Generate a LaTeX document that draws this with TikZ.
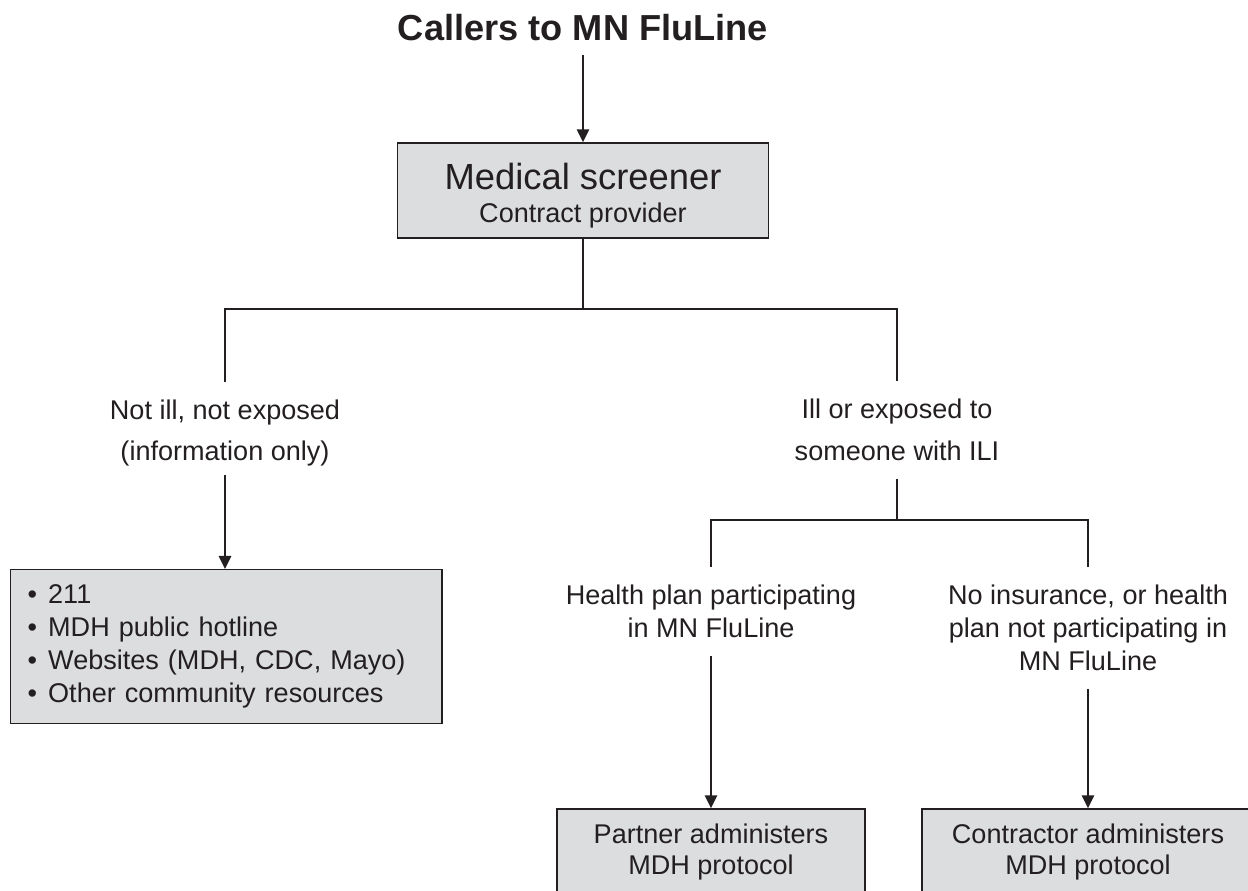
\documentclass[tikz,border=0pt]{standalone}
\usepackage{fontspec}
\setmainfont{Liberation Sans}
\usetikzlibrary{arrows.meta}
\definecolor{boxgray}{RGB}{220,221,223}
\definecolor{ink}{RGB}{35,31,32}
\begin{document}
\begin{tikzpicture}[x=0.02cm, y=-0.02cm, color=ink, line width=1.1pt, >={Triangle[length=7.4pt, width=7pt]},
    box/.style = {draw, fill=boxgray, line width=0.85pt, inner sep=0pt, align=center},
    lbl/.style = {align=center, inner xsep=0pt, inner ysep=0.34cm, font=\fontsize{15.4}{18.8}\selectfont},
    lbltall/.style = {lbl, font=\fontsize{15.4}{23.8}\selectfont}]
    \clip (0,0) rectangle (1248,891);
    \node[font=\bfseries\fontsize{20.6}{24}\selectfont, inner xsep=0pt, inner ysep=0.26cm] (1) at (583,28) {Callers to MN FluLine};
    \node[box, minimum width=7.42cm, minimum height=1.9cm, font=\fontsize{15.4}{18.7}\selectfont] (2) at (583,190.5) {\rule{0pt}{0.72cm}{\fontsize{20.7}{24}\selectfont Medical screener}\\Contract provider};
    \node[lbltall] (3) at (225,433) {Not ill, not exposed\\(information only)};
    \node[lbltall] (4) at (897,430) {Ill or exposed to\\someone with ILI};
    \node[lbl] (5) at (711,611.5) {Health plan participating\\in MN FluLine};
    \node[lbl] (6) at (1088,628) {No insurance, or health\\plan not participating in\\MN FluLine};
    \node[box, minimum width=6.16cm, minimum height=1.72cm, font=\fontsize{15.4}{17.6}\selectfont] (7) at (711,852) {Partner administers\\MDH protocol};
    \node[box, minimum width=6.64cm, minimum height=1.72cm, font=\fontsize{15.4}{17.6}\selectfont] (8) at (1088,852) {Contractor administers\\MDH protocol};
    \node[box, anchor=north west, align=left, text width=7.94cm, minimum height=3.08cm, inner xsep=0.35cm, font=\fontsize{15.4}{18.8}\selectfont] (9) at (9.5,569)
        {•\hspace{0.22cm}211\\•\hspace{0.22cm}MDH public hotline\\•\hspace{0.22cm}Websites (MDH, CDC, Mayo)\\•\hspace{0.22cm}Other community resources};
    \coordinate (s1) at (583,309);
    \coordinate (s2) at (897,520);
    \draw[->] (1) -- (2);
    \draw (2) -- (s1);
    \draw (3) |- (s1) -| (4);
    \draw[->, shorten <=-0.18cm] (3.south) -- (3.south |- 9.north);
    \draw (4) -- (s2);
    \draw (5) |- (s2) -| (6);
    \draw[->] (5) -- (7);
    \draw[->] (6) -- (8);
\end{tikzpicture}
\end{document}
